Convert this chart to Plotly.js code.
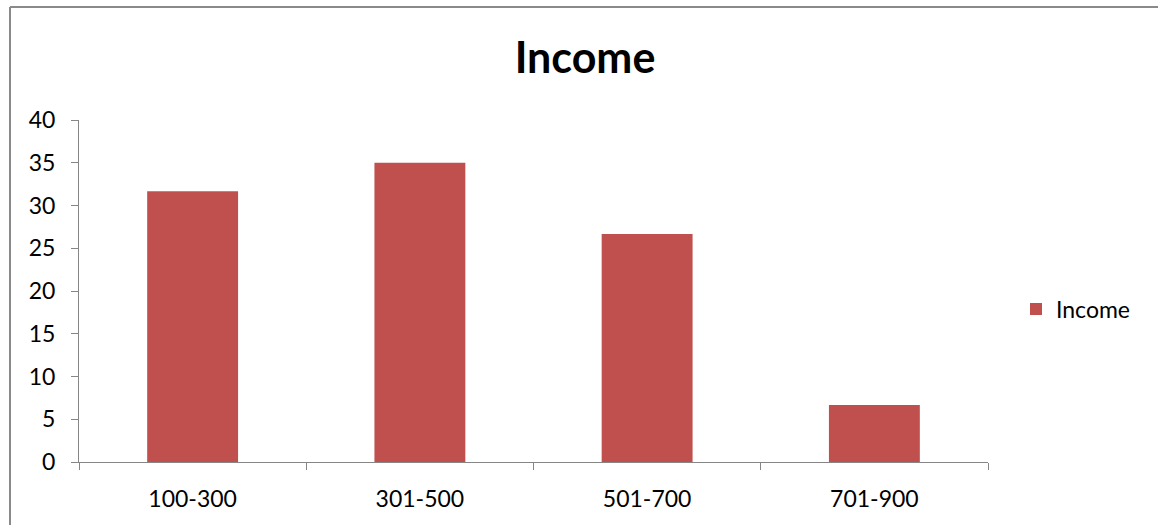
<!DOCTYPE html>
<html>
<head>
<meta charset="utf-8">
<script src="https://cdn.plot.ly/plotly-3.0.1.min.js"></script>
<style>
  html, body { margin: 0; padding: 0; background: #ffffff; }
  #chart { width: 1158px; height: 525px; }
</style>
</head>
<body>
<div id="chart"></div>
<script>
// Income groups and their shares
const categories = ['100-300', '301-500', '501-700', '701-900'];
const incomeValues = [31.67, 35, 26.67, 6.67];
const seriesName = 'Income';
const yTicks = [0, 5, 10, 15, 20, 25, 30, 35, 40];

const W = 1158, H = 525;
const plotLeft = 79, plotRight = 988, plotTop = 120, plotBottom = 462;
const pw = plotRight - plotLeft, ph = plotBottom - plotTop;
// convert page pixels to paper fractions for the chart-area frame
const px = x => (x - plotLeft) / pw;
const py = y => (plotBottom - y) / ph;

const axisGrey = '#868686';
const font = 'Lato, "Open Sans", sans-serif';
const labelSize = 23;

const trace = {
  type: 'bar',
  x: categories,
  y: incomeValues,
  name: seriesName,
  marker: { color: '#C0504D', line: { width: 0 } },
  showlegend: true,
  hoverinfo: 'x+y'
};

const layout = {
  width: W,
  height: H,
  margin: { l: plotLeft, r: W - plotRight, t: plotTop, b: H - plotBottom, pad: 0 },
  paper_bgcolor: '#ffffff',
  plot_bgcolor: '#ffffff',
  font: { family: font, size: labelSize, color: '#000000' },
  title: {
    text: '<b>Income</b>',
    font: { family: font, size: 43, color: '#000000' },
    xref: 'paper', x: px(585), xanchor: 'center',
    yref: 'container', y: 1 - 58 / H, yanchor: 'middle'
  },
  bargap: 0.6,
  xaxis: {
    type: 'category',
    showline: true, linecolor: axisGrey, linewidth: 1,
    ticks: 'outside', tickson: 'boundaries', ticklen: 7, tickcolor: axisGrey, tickwidth: 1,
    showgrid: false, zeroline: false,
    ticklabelstandoff: 16,
    tickfont: { family: font, size: labelSize, color: '#000000' },
    fixedrange: true
  },
  yaxis: {
    range: [0, 40],
    tickvals: yTicks,
    showline: true, linecolor: axisGrey, linewidth: 1,
    ticks: 'outside', ticklen: 7, tickcolor: axisGrey, tickwidth: 1,
    showgrid: false, zeroline: false,
    ticklabelstandoff: 11,
    tickfont: { family: font, size: labelSize, color: '#000000' },
    fixedrange: true
  },
  showlegend: true,
  legend: {
    x: px(1016), xanchor: 'left',
    y: py(309), yanchor: 'middle',
    font: { family: font, size: labelSize, color: '#000000' },
    bgcolor: 'rgba(0,0,0,0)',
    itemwidth: 30
  },
  shapes: [
    // chart-area frame: top and left edges
    { type: 'line', xref: 'paper', yref: 'paper',
      x0: px(10), x1: px(W + 20), y0: py(7), y1: py(7),
      line: { color: '#8a8a8a', width: 2 } },
    { type: 'line', xref: 'paper', yref: 'paper',
      x0: px(10), x1: px(10), y0: py(7), y1: py(H + 20),
      line: { color: '#8a8a8a', width: 2 } }
  ]
};

Plotly.newPlot('chart', [trace], layout, { displayModeBar: false, staticPlot: true });
</script>
</body>
</html>
